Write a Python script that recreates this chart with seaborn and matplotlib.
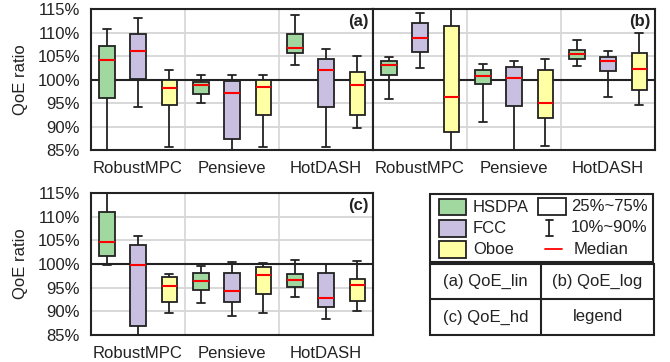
import numpy as np
import pandas as pd
import matplotlib
matplotlib.use('Agg')
import matplotlib.pyplot as plt
import seaborn as sns
from matplotlib.patches import Rectangle
from matplotlib.lines import Line2D

algos = ['RobustMPC', 'Pensieve', 'HotDASH']
traces = ['HSDPA', 'FCC', 'Oboe']
colors = ['#a0d8a0', '#c9bfe0', '#ffffa3']

# one row per (algo, trace), algo-major: [p10, p25, median, p75, p90] in %
qoe_lin = [
    [80.0, 96.1, 104.2, 107.2, 110.7],
    [94.2, 100.2, 106.1, 109.6, 113.1],
    [85.7, 94.6, 98.2, 100.0, 102.0],
    [94.9, 97.0, 98.8, 99.5, 100.9],
    [82.0, 87.3, 97.2, 99.7, 101.0],
    [85.7, 92.5, 98.3, 99.8, 100.9],
    [103.1, 105.6, 106.7, 109.7, 113.7],
    [85.7, 94.1, 102.0, 104.3, 106.5],
    [89.7, 92.5, 98.9, 101.7, 105.1],
]
qoe_log = [
    [95.8, 101.0, 103.1, 103.9, 104.7],
    [102.4, 105.8, 108.9, 112.1, 114.2],
    [82.0, 88.8, 96.3, 111.4, 118.0],
    [91.0, 99.0, 100.7, 102.1, 103.2],
    [82.0, 94.3, 100.4, 102.6, 104.0],
    [85.9, 91.9, 95.1, 102.1, 104.4],
    [102.9, 104.3, 105.4, 106.3, 108.5],
    [96.3, 101.8, 103.9, 104.8, 106.1],
    [94.6, 97.8, 102.2, 105.7, 109.8],
]
qoe_hd = [
    [99.7, 101.6, 104.6, 111.0, 118.0],
    [82.0, 87.0, 99.7, 104.1, 106.0],
    [89.6, 92.0, 95.4, 97.2, 97.9],
    [91.8, 94.5, 96.4, 98.2, 99.5],
    [89.1, 92.0, 94.3, 98.0, 100.4],
    [89.7, 93.6, 97.7, 99.4, 100.3],
    [93.0, 95.2, 96.6, 97.8, 100.9],
    [88.4, 90.9, 92.9, 98.0, 100.0],
    [90.1, 92.2, 95.6, 96.9, 100.6],
]
yticks = [85, 90, 95, 100, 105, 110, 115]

sns.set_style('white')
plt.rcParams['font.family'] = ['Liberation Sans', 'DejaVu Sans']
INK = '#222222'
GRID = '#d6d6d6'


def to_long(stats):
    # the five stats are used as the sample, so whis=(0, 100) gives p10/p90 whiskers
    rows = []
    for i, five in enumerate(stats):
        for v in five:
            rows.append({'algo': algos[i // 3], 'trace': traces[i % 3], 'qoe': v})
    return pd.DataFrame(rows)


def draw_panel(ax, stats, tag, show_y=True):
    df = to_long(stats)
    sns.boxplot(data=df, x='algo', y='qoe', hue='trace', order=algos, hue_order=traces,
                palette=colors, whis=(0, 100), width=1.0, gap=0.5, saturation=1,
                linecolor=INK, linewidth=1.3, showfliers=False,
                medianprops={'color': 'red', 'linewidth': 1.5},
                legend=False, ax=ax)
    ax.set_axisbelow(True)
    ax.axhline(100, color=INK, lw=1.5, zorder=1.5)
    for xb in [0.5, 1.5]:
        ax.axvline(xb, color=GRID, lw=1.2, zorder=0.5)
    ax.set_ylim(85, 115)
    ax.set_xlim(-0.5, 2.5)
    ax.set_yticks(yticks)
    ax.yaxis.grid(True, color=GRID, lw=1.3)
    ax.xaxis.grid(False)
    if show_y:
        ax.set_yticklabels([f'{v}%' for v in yticks])
        ax.set_ylabel('QoE ratio', fontsize=12, color=INK, labelpad=7)
    else:
        ax.set_yticklabels([])
        ax.set_ylabel('')
    ax.set_xlabel('')
    ax.tick_params(axis='both', length=0, labelsize=12, pad=8, colors=INK)
    for s in ax.spines.values():
        s.set_color(INK)
        s.set_linewidth(1.5)
    ax.text(0.985, 0.91, tag, transform=ax.transAxes, ha='right', va='center',
            fontsize=12, fontweight='bold', color=INK)


fig = plt.figure(figsize=(6.7, 3.62), dpi=100)
W, H = 670, 362


def px_axes(x0, y0, x1, y1):
    return fig.add_axes([x0 / W, (H - y1) / H, (x1 - x0) / W, (y1 - y0) / H])


ax_a = px_axes(91, 9, 373, 150)
ax_b = px_axes(373, 9, 655, 150)
ax_c = px_axes(91, 193, 373, 335)
draw_panel(ax_a, qoe_lin, '(a)')
draw_panel(ax_b, qoe_log, '(b)', show_y=False)
draw_panel(ax_c, qoe_hd, '(c)')

# legend / caption block drawn in pixel coordinates
lax = px_axes(430, 193, 654, 335)
lax.set_xlim(0, 224)
lax.set_ylim(142, 0)
lax.axis('off')
box_kw = dict(fill=False, ec=INK, lw=1.5, clip_on=False)
lax.add_patch(Rectangle((0, 0.5), 223, 68.5, **box_kw))
lax.add_patch(Rectangle((0, 71), 224, 71, **box_kw))
lax.plot([111, 111], [71, 142], color=INK, lw=1.5, clip_on=False)
lax.plot([0, 224], [105.7, 105.7], color=INK, lw=1.5, clip_on=False)

for i, (name, col) in enumerate(zip(traces, colors)):
    y0 = 5.7 + i * 21.3
    lax.add_patch(Rectangle((9.3, y0), 26.7, 16.5, fc=col, ec=INK, lw=1.3))
    lax.text(43, y0 + 8.5, name, ha='left', va='center', fontsize=12, color=INK)

lax.add_patch(Rectangle((108.3, 5.3), 27.4, 16.4, fc='white', ec=INK, lw=1.3))
lax.text(141, 13.5, '25%~75%', ha='left', va='center', fontsize=12, color=INK)
lax.plot([119.3, 119.3], [27, 43], color=INK, lw=1.3)
lax.plot([115.8, 122.8], [27, 27], color=INK, lw=1.3)
lax.plot([115.8, 122.8], [43, 43], color=INK, lw=1.3)
lax.text(141, 35, '10%~90%', ha='left', va='center', fontsize=12, color=INK)
lax.plot([115, 131.7], [56, 56], color='red', lw=1.3)
lax.text(143.3, 56.5, 'Median', ha='left', va='center', fontsize=12, color=INK)

cells = [('(a) QoE_lin', 55.5, 88.3), ('(b) QoE_log', 167.5, 88.3),
         ('(c) QoE_hd', 55.5, 124), ('legend', 167.5, 124)]
for txt, cx, cy in cells:
    lax.text(cx, cy, txt, ha='center', va='center', fontsize=12, color=INK)

fig.savefig('out.png', dpi=100)
